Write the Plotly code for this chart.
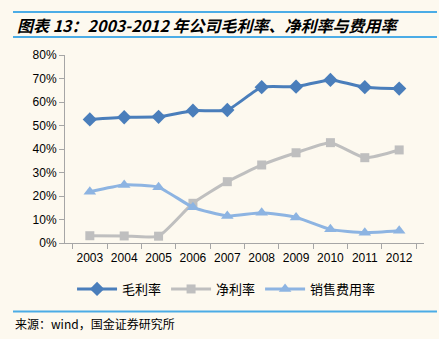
import plotly.graph_objects as go

years = ["2003", "2004", "2005", "2006", "2007", "2008", "2009", "2010", "2011", "2012"]
gross_margin = [0.526, 0.535, 0.537, 0.563, 0.566, 0.663, 0.665, 0.694, 0.663, 0.657]
net_margin = [0.031, 0.030, 0.029, 0.169, 0.261, 0.332, 0.384, 0.427, 0.363, 0.396]
selling_exp = [0.218, 0.247, 0.237, 0.152, 0.115, 0.129, 0.109, 0.058, 0.044, 0.052]
series_names = ["毛利率", "净利率", "销售费用率"]

W, H = 439, 339
L, R, T, B = 65, 424, 55, 243

def px(x):
    return (x - L) / (R - L)

def py(y):
    return (B - y) / (B - T)

fig = go.Figure()
fig.add_trace(go.Scatter(x=years, y=gross_margin, name=series_names[0], mode="lines+markers",
                         line=dict(color="#4A7EBB", width=3, shape="spline", smoothing=0.5),
                         marker=dict(symbol="diamond", size=11, color="#4A7EBB")))
fig.add_trace(go.Scatter(x=years, y=net_margin, name=series_names[1], mode="lines+markers",
                         line=dict(color="#BFBFBF", width=3, shape="spline", smoothing=0.5),
                         marker=dict(symbol="square", size=9, color="#BFBFBF")))
fig.add_trace(go.Scatter(x=years, y=selling_exp, name=series_names[2], mode="lines+markers",
                         line=dict(color="#8DB4E2", width=3, shape="spline", smoothing=0.5),
                         marker=dict(symbol="triangle-up", size=11, color="#8DB4E2")))

bg = "#FDF9EF"
font_cjk = "Noto Sans CJK SC"
fig.update_layout(
    width=W, height=H,
    margin=dict(l=L, r=W - R, t=T, b=H - B),
    paper_bgcolor=bg, plot_bgcolor=bg,
    font=dict(family="Liberation Sans, Arial, " + font_cjk, size=12, color="#000000"),
    showlegend=True,
    legend=dict(orientation="h", x=0.45, xanchor="center", y=py(289), yanchor="middle",
                font=dict(family=font_cjk, size=13, color="#000"), bgcolor="rgba(0,0,0,0)",
                itemwidth=40, tracegroupgap=0),
    xaxis=dict(type="category", showgrid=False, showline=True, linecolor="#A6A6A6", linewidth=1,
               ticks="outside", tickson="boundaries", ticklen=5, tickcolor="#A6A6A6", tickangle=0,
               ticklabelstandoff=4,
               tickfont=dict(size=12, color="#000"), zeroline=False),
    yaxis=dict(range=[0, 0.8], dtick=0.1, tickformat=".0%", showgrid=False, showline=True,
               linecolor="#A6A6A6", linewidth=1, ticks="outside", ticklen=5, tickcolor="#A6A6A6",
               tickfont=dict(size=12, color="#000"), zeroline=False),
)

line_col = "#4BACE6"
fig.add_shape(type="line", xref="paper", yref="paper", x0=px(13), x1=px(437), y0=py(12), y1=py(12),
              line=dict(color=line_col, width=2))
fig.add_shape(type="line", xref="paper", yref="paper", x0=px(13), x1=px(437), y0=py(37), y1=py(37),
              line=dict(color=line_col, width=2))
fig.add_shape(type="line", xref="paper", yref="paper", x0=px(13), x1=px(437), y0=py(311.5), y1=py(311.5),
              line=dict(color=line_col, width=2))

fig.add_annotation(text="<b><i>图表 13：2003-2012 年公司毛利率、净利率与费用率</i></b>",
                   xref="paper", yref="paper", x=px(15), y=py(24.5), xanchor="left", yanchor="middle",
                   showarrow=False, font=dict(family=font_cjk, size=16, color="#000"))
fig.add_annotation(text="来源：wind，国金证券研究所",
                   xref="paper", yref="paper", x=px(13), y=py(323), xanchor="left", yanchor="middle",
                   showarrow=False, font=dict(family=font_cjk, size=12, color="#000"))

fig.write_html("out.html")
